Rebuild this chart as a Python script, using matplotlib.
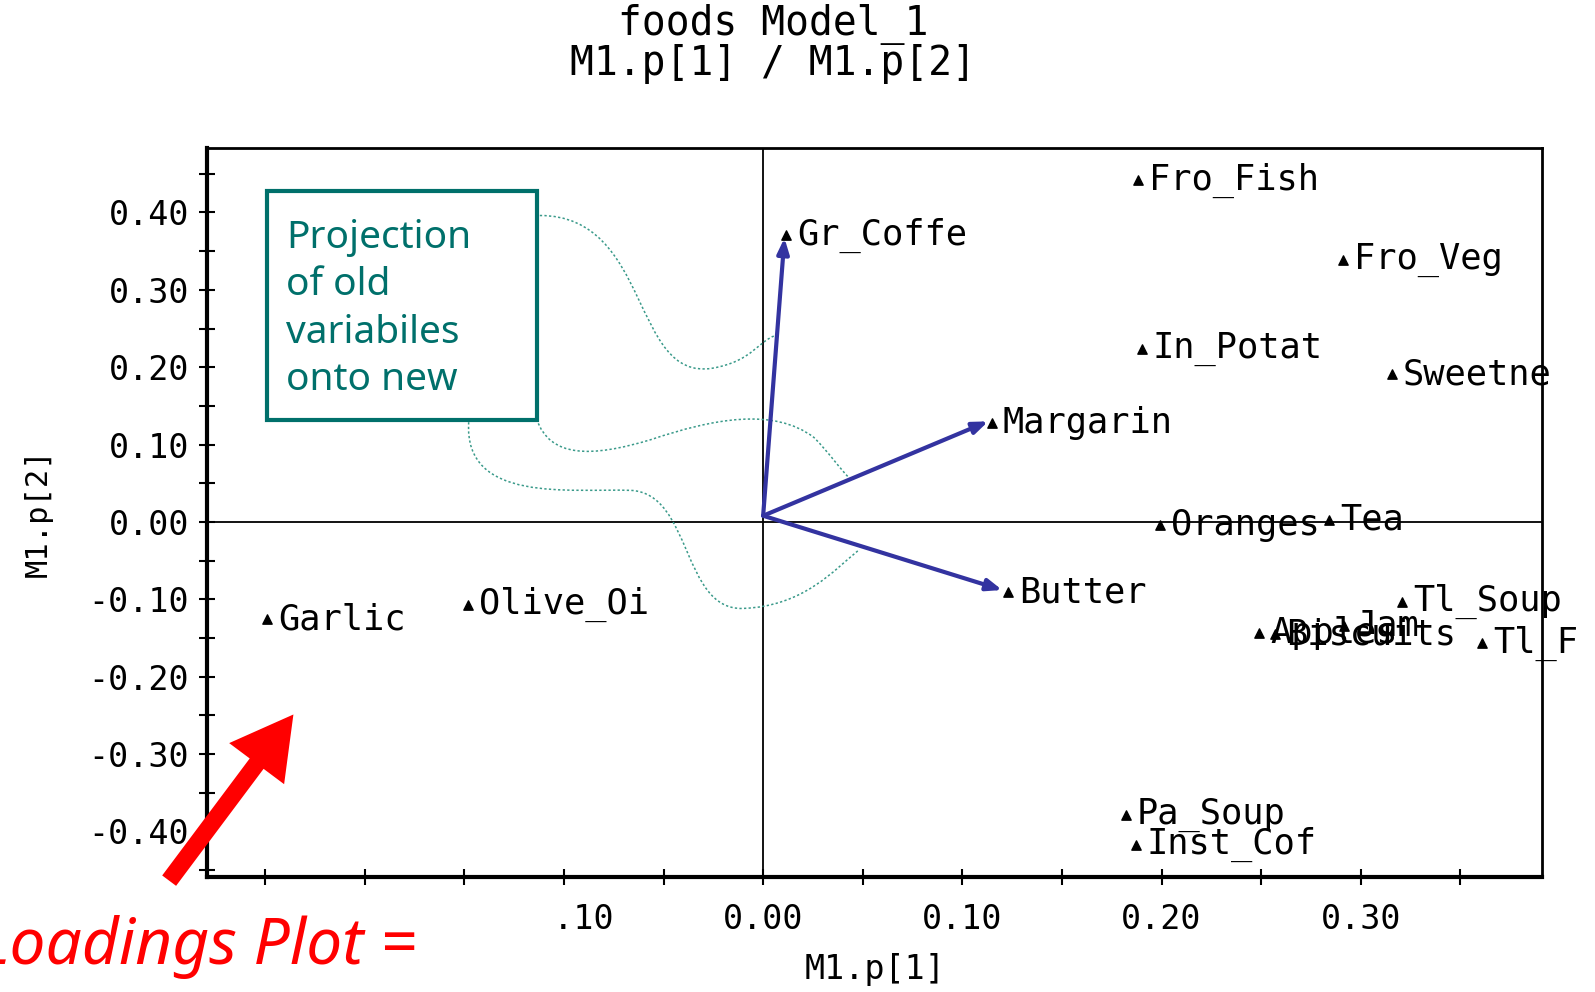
import matplotlib
matplotlib.use("Agg")
import matplotlib.pyplot as plt
from matplotlib.patches import Rectangle, FancyArrowPatch, PathPatch
from matplotlib.path import Path
from matplotlib.ticker import MultipleLocator, FormatStrFormatter

# loadings
names = ["Fro_Fish", "Gr_Coffe", "Fro_Veg", "In_Potat", "Sweetne", "Margarin",
         "Oranges", "Tea", "Butter", "Tl_Soup", "Apples", "Biscuits", "Jam",
         "Tl_F", "Garlic", "Olive_Oi", "Pa_Soup", "Inst_Cof"]
p1 = [0.188, 0.0117, 0.291, 0.190, 0.3155, 0.1147,
      0.199, 0.284, 0.123, 0.3206, 0.249, 0.257, 0.2915,
      0.361, -0.249, -0.148, 0.182, 0.187]
p2 = [0.442, 0.371, 0.339, 0.224, 0.191, 0.128,
      -0.004, 0.003, -0.091, -0.103, -0.143, -0.145, -0.134,
      -0.157, -0.126, -0.107, -0.379, -0.417]

# projection arrows
arrow_start = (0.0, 0.008)
arrow_ends = [(0.0107, 0.367), (0.113, 0.130), (0.120, -0.088)]

# dotted callout curves (cubic bezier control points, data coords)
curves = [
    [(-0.1121, 0.3961), (-0.0561, 0.3961), (-0.0663, 0.1816), (-0.0255, 0.1987),
     (-0.0051, 0.2079), (-0.0025, 0.2342), (0.0061, 0.2408)],
    [(-0.1137, 0.1329), (-0.1070, 0.0829), (-0.0866, 0.0829), (-0.0561, 0.1066),
     (-0.0255, 0.1329), (0.0051, 0.1487), (0.0255, 0.1092),
     (0.0331, 0.0895), (0.0382, 0.0697), (0.0433, 0.0566)],
    [(-0.1478, 0.1289), (-0.1504, 0.0237), (-0.0968, 0.0434), (-0.0663, 0.0408),
     (-0.0357, 0.0368), (-0.0408, -0.1145), (-0.0102, -0.1118),
     (0.0204, -0.1092), (0.0357, -0.0618), (0.0484, -0.0355)],
]

mono = "DejaVu Sans Mono"
teal = "#00706b"
blue = "#3333a0"

fig = plt.figure(figsize=(15.95, 9.92), dpi=100)
ax = fig.add_axes([0.130, 0.1159, 0.8368, 0.7354])

ax.set_xlim(-0.279, 0.391)
ax.set_ylim(-0.459, 0.484)

ax.axhline(0, color="black", lw=1.3, zorder=1)
ax.axvline(0, color="black", lw=1.3, zorder=1)

ax.scatter(p1, p2, marker="^", s=45, color="black", zorder=4)
for n, x, y in zip(names, p1, p2):
    ax.annotate(n, (x, y), xytext=(8, 0), textcoords="offset points",
                va="center", ha="left", fontsize=25.5, family=mono,
                annotation_clip=False, clip_on=False, zorder=5)

for ex, ey in arrow_ends:
    ax.annotate("", xy=(ex, ey), xytext=arrow_start,
                arrowprops=dict(arrowstyle="-|>,head_length=0.9,head_width=0.35",
                                color=blue, lw=3, shrinkA=0, shrinkB=0),
                zorder=3)

for pts in curves:
    codes = [Path.MOVETO] + [Path.CURVE4] * (len(pts) - 1)
    ax.add_patch(PathPatch(Path(pts, codes), fill=False, edgecolor="#3a9a8a",
                           lw=1.1, ls=(0, (1.5, 1.5)), zorder=2))

# callout box
ax.add_patch(Rectangle((-0.2492, 0.1316), 0.1355, 0.296, facecolor="white",
                       edgecolor=teal, lw=3, zorder=6))
ax.text(-0.2395, 0.392, "Projection\nof old\nvariabiles\nonto new",
        color=teal, fontsize=28, family="Noto Sans", va="top", ha="left",
        linespacing=1.33, zorder=7)

# axes styling
ax.xaxis.set_major_locator(MultipleLocator(0.1))
ax.xaxis.set_minor_locator(MultipleLocator(0.05))
ax.yaxis.set_major_locator(MultipleLocator(0.1))
ax.yaxis.set_minor_locator(MultipleLocator(0.05))
ax.xaxis.set_major_formatter(FormatStrFormatter("%.2f"))
ax.yaxis.set_major_formatter(FormatStrFormatter("%.2f"))
ax.tick_params(which="both", direction="inout", length=12, width=1.5, color="black")
ax.tick_params(axis="both", labelsize=24, pad=7)
for lab in ax.get_xticklabels() + ax.get_yticklabels():
    lab.set_family(mono)
ax.tick_params(axis="x", pad=13)

ax.spines["left"].set_linewidth(3)
ax.spines["bottom"].set_linewidth(3)
ax.spines["top"].set_linewidth(2)
ax.spines["right"].set_linewidth(2)

ax.set_xlabel("M1.p[1]", fontsize=24, family=mono, labelpad=12)
ax.set_ylabel("M1.p[2]", fontsize=22, family=mono, labelpad=26)

fig.text(0.4846, 0.975, "foods Model_1", ha="center", va="center",
         fontsize=28.5, family=mono)
fig.text(0.4846, 0.935, "M1.p[1] / M1.p[2]", ha="center", va="center",
         fontsize=28.5, family=mono)

# slide overlay: white block, red arrow and caption
fig.add_artist(Rectangle((0, 0), 0.35, 0.098, transform=fig.transFigure,
                         facecolor="white", edgecolor="none", zorder=5))
fig.add_artist(FancyArrowPatch((0.105, 0.110), (0.185, 0.282),
                               transform=fig.transFigure,
                               arrowstyle="simple,head_length=1.7,head_width=1.9,tail_width=0.48",
                               mutation_scale=26, color="#ff0000", lw=0, zorder=6))
fig.text(-0.013, 0.028, "Loadings Plot =", color="#ff0000", fontsize=46,
         style="italic", family="Noto Sans", ha="left", va="baseline", zorder=7)

fig.savefig("out.png", dpi=100)
